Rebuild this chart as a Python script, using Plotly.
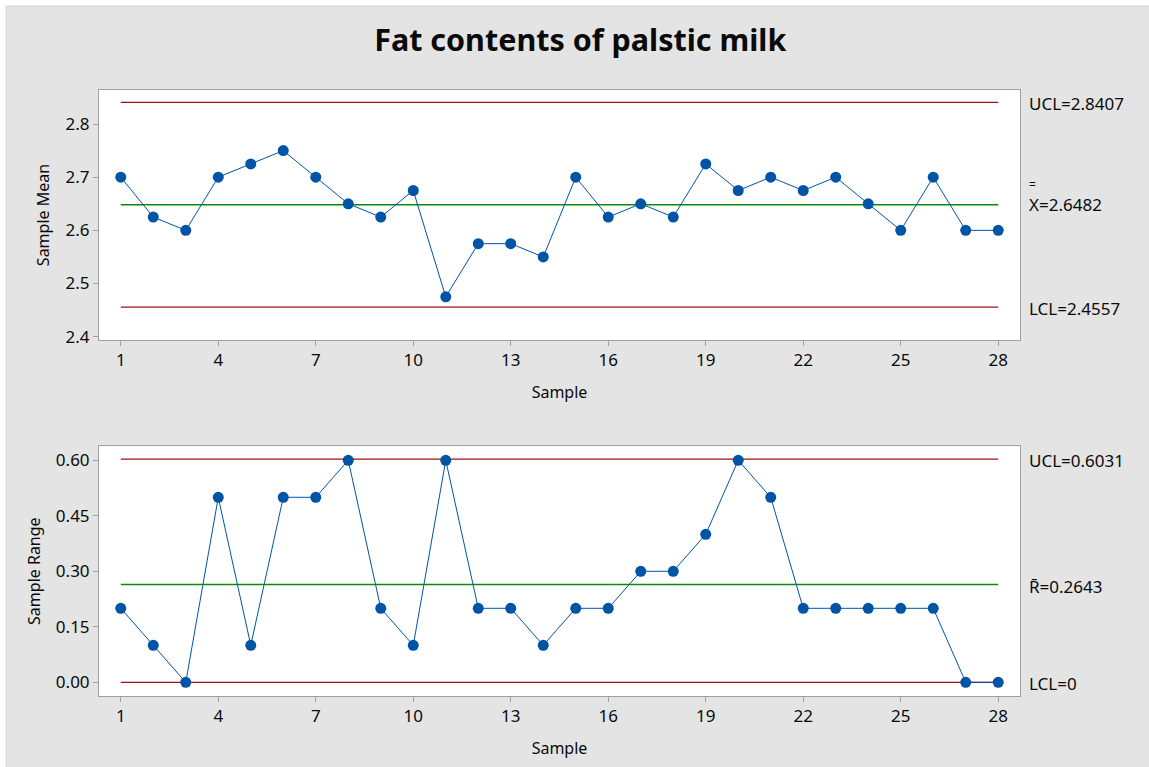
import plotly.graph_objects as go

# ---- data ----
samples = list(range(1, 29))
sample_means = [2.700, 2.625, 2.600, 2.700, 2.725, 2.750, 2.700, 2.650, 2.625, 2.675,
                2.475, 2.575, 2.575, 2.550, 2.700, 2.625, 2.650, 2.625, 2.725, 2.675,
                2.700, 2.675, 2.700, 2.650, 2.600, 2.700, 2.600, 2.600]
sample_ranges = [0.2, 0.1, 0.0, 0.5, 0.1, 0.5, 0.5, 0.6, 0.2, 0.1,
                 0.6, 0.2, 0.2, 0.1, 0.2, 0.2, 0.3, 0.3, 0.4, 0.6,
                 0.5, 0.2, 0.2, 0.2, 0.2, 0.2, 0.0, 0.0]
xbar_ucl, xbar_center, xbar_lcl = 2.8407, 2.6482, 2.4557
r_ucl, r_center, r_lcl = 0.6031, 0.2643, 0.0
x_ticks = [1, 4, 7, 10, 13, 16, 19, 22, 25, 28]
mean_ticks = [2.4, 2.5, 2.6, 2.7, 2.8]
range_ticks = [0.00, 0.15, 0.30, 0.45, 0.60]

title_text = "Fat contents of palstic milk"

# ---- styling ----
FONT = "Noto Sans"
BLUE = "#0054A6"
RED = "#A50F0F"
GREEN = "#0A8A0A"
PANEL = "#E4E4E4"
FRAME = "#A0A0A0"
TXT = "#0A0A0A"

W, H = 1149, 767
ML, MR, MT, MB = 99, 129, 90, 71
PW, PH = W - ML - MR, H - MT - MB

def px_x(px):
    return (px - ML) / PW

def px_y(py):
    return (H - MB - py) / PH

fig = go.Figure()

x_first, x_last = samples[0], samples[-1]

def add_chart(values, ucl, cl, lcl, xa, ya):
    for val, col in ((ucl, RED), (cl, GREEN), (lcl, RED)):
        fig.add_trace(go.Scatter(x=[x_first, x_last], y=[val, val], mode="lines",
                                 line=dict(color=col, width=1.3), xaxis=xa, yaxis=ya,
                                 hoverinfo="skip", showlegend=False))
    fig.add_trace(go.Scatter(x=samples, y=values, mode="lines+markers",
                             line=dict(color=BLUE, width=1),
                             marker=dict(color=BLUE, size=11),
                             xaxis=xa, yaxis=ya, showlegend=False))

add_chart(sample_means, xbar_ucl, xbar_center, xbar_lcl, "x", "y")
add_chart(sample_ranges, r_ucl, r_center, r_lcl, "x2", "y2")

top_dom = [px_y(340), 1.0]
bot_dom = [0.0, px_y(446.3)]

axis_common = dict(showline=True, mirror=True, linecolor=FRAME, linewidth=1,
                   showgrid=False, zeroline=False, ticks="outside", ticklen=5,
                   tickcolor=FRAME, tickfont=dict(family=FONT, size=17, color=TXT))
title_font = dict(family=FONT, size=16, color=TXT)

fig.update_layout(
    width=W, height=H,
    margin=dict(l=ML, r=MR, t=MT, b=MB),
    paper_bgcolor="white",
    plot_bgcolor="rgba(0,0,0,0)",
    font=dict(family=FONT, color=TXT),
    title=dict(text=title_text, x=0.505, xanchor="center", y=1 - 40 / H, yanchor="middle",
               font=dict(family=FONT, size=30.5, color=TXT, weight="bold")),
    xaxis=dict(domain=[0, 1], anchor="y", range=[0.33, 28.67], tickvals=x_ticks,
               title=dict(text="Sample", font=title_font, standoff=16),
               **axis_common),
    yaxis=dict(domain=top_dom, anchor="x", range=[2.3938, 2.864], tickvals=mean_ticks,
               tickformat=".1f",
               title=dict(text="Sample Mean", font=title_font, standoff=11),
               **axis_common),
    xaxis2=dict(domain=[0, 1], anchor="y2", range=[0.33, 28.67], tickvals=x_ticks,
                title=dict(text="Sample", font=title_font, standoff=16),
                **axis_common),
    yaxis2=dict(domain=bot_dom, anchor="x2", range=[-0.037, 0.6378], tickvals=range_ticks,
                tickformat=".2f",
                title=dict(text="Sample Range", font=title_font, standoff=11),
                **axis_common),
)

shapes = [
    dict(type="rect", xref="paper", yref="paper", layer="below",
         x0=px_x(6), x1=px_x(W + 10), y0=px_y(H + 10), y1=px_y(6),
         fillcolor=PANEL, line=dict(width=0)),
    dict(type="line", xref="paper", yref="paper", layer="below",
         x0=px_x(6), x1=px_x(W + 10), y0=px_y(6), y1=px_y(6),
         line=dict(color="#D2D2D2", width=1)),
    dict(type="line", xref="paper", yref="paper", layer="below",
         x0=px_x(6), x1=px_x(6), y0=px_y(6), y1=px_y(H + 10),
         line=dict(color="#D2D2D2", width=1)),
    dict(type="rect", xref="x domain", yref="y domain", layer="below",
         x0=0, x1=1, y0=0, y1=1, fillcolor="white", line=dict(width=0)),
    dict(type="rect", xref="x2 domain", yref="y2 domain", layer="below",
         x0=0, x1=1, y0=0, y1=1, fillcolor="white", line=dict(width=0)),
]
fig.update_layout(shapes=shapes)

ann_font = dict(family=FONT, size=17, color=TXT)

def label(text, yval, xref, yref, yshift=0):
    fig.add_annotation(text=text, x=1, xref=xref, y=yval, yref=yref, xanchor="left",
                       yanchor="middle", xshift=7, yshift=yshift, showarrow=False,
                       font=ann_font, align="left")

label(f"UCL={xbar_ucl:.4f}", xbar_ucl, "x domain", "y", yshift=-1)
label(f"<span style='font-size:12px'>=</span><br>X={xbar_center:.4f}", xbar_center,
      "x domain", "y", yshift=9)
label(f"LCL={xbar_lcl:.4f}", xbar_lcl, "x domain", "y", yshift=-1)
label(f"UCL={r_ucl:.4f}", r_ucl, "x2 domain", "y2", yshift=-1)
label(f"R\u0304={r_center:.4f}", r_center, "x2 domain", "y2", yshift=-2)
label(f"LCL={r_lcl:g}", r_lcl, "x2 domain", "y2", yshift=-1)

fig.write_html("out.html", config={"displayModeBar": False},
               post_script="document.body.style.margin='0';document.body.style.overflow='hidden';")
